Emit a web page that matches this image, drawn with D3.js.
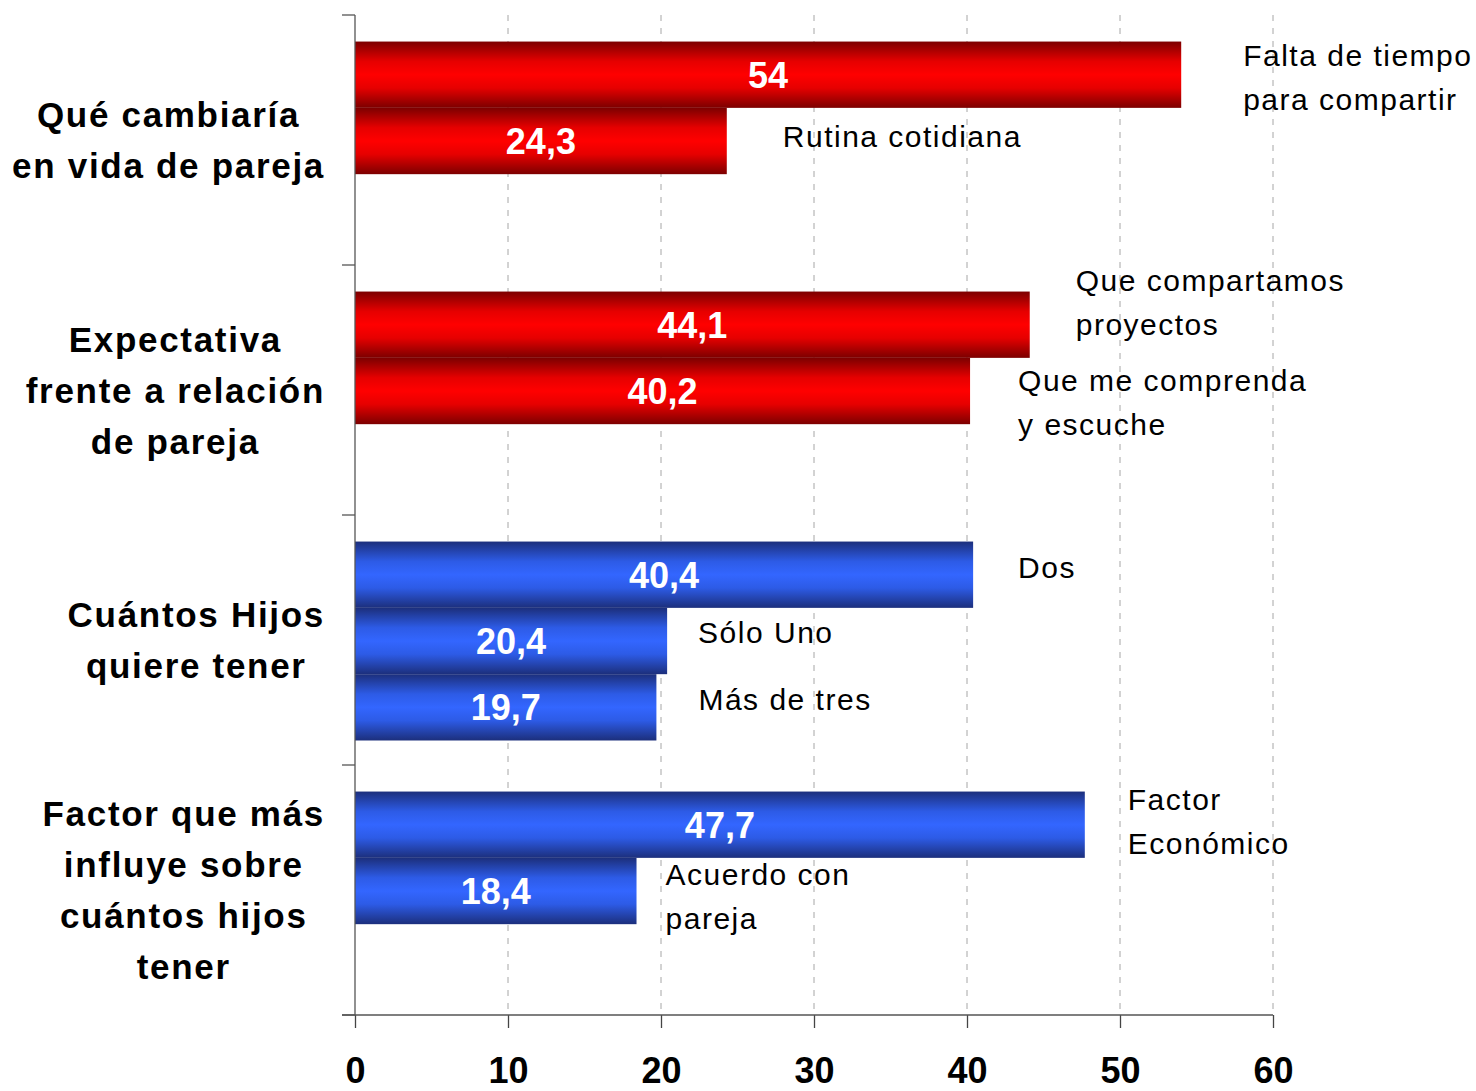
<!DOCTYPE html>
<html>
<head>
<meta charset="utf-8">
<script src="https://cdn.jsdelivr.net/npm/d3@7"></script>
<style>
    body { margin: 0; background: #fff; }
    svg { display: block; font-family: Arial, "Liberation Sans", sans-serif; }
</style>
</head>
<body>
<svg id="chart" width="1476" height="1091"></svg>
<script>
// data
var categories = [
    ["Qué cambiaría", "en vida de pareja"],
    ["Expectativa", "frente a relación", "de pareja"],
    ["Cuántos Hijos", "quiere tener"],
    ["Factor que más", "influye sobre", "cuántos hijos", "tener"]
];
var groupValues = [
    [54, 24.3],
    [44.1, 40.2],
    [40.4, 20.4, 19.7],
    [47.7, 18.4]
];
var optionLabels = [
    [["Falta de tiempo", "para compartir"], ["Rutina cotidiana"]],
    [["Que compartamos", "proyectos"], ["Que me comprenda", "y escuche"]],
    [["Dos"], ["Sólo Uno"], ["Más de tres"]],
    [["Factor", "Económico"], ["Acuerdo con", "pareja"]]
];
var groupColor = ["red", "red", "blue", "blue"];
var xTicks = [0, 10, 20, 30, 40, 50, 60];

// where each option label sits, relative to the end/middle of its bar (px)
var labelNudge = [
    [[62, -20], [56, -5]],
    [[46, -45], [48, -11]],
    [[45, -8], [31, -9], [42, -8]],
    [[43, -26], [29, -17]]
];

var svg = d3.select("#chart");
var catKeys = categories.map(function(c){ return c.join(" "); });

var x = d3.scaleLinear().domain([0, 60]).range([355, 1273]);
var y = d3.scaleBand().domain(catKeys).range([15, 1015]);
var slot = d3.scaleBand().domain([0, 1, 2]).range([0, y.bandwidth()]).paddingOuter(0.385).align(0.52);

// gradients
var defs = svg.append("defs");
function addGrad(id, edge, mid, peak) {
    var g = defs.append("linearGradient").attr("id", id)
        .attr("x1", 0).attr("y1", 0).attr("x2", 0).attr("y2", 1);
    [[0, edge], [0.3, mid], [0.5, peak], [0.7, mid], [1, edge]].forEach(function(s){
        g.append("stop").attr("offset", s[0]).attr("stop-color", s[1]);
    });
}
addGrad("grad-red", "#7c0000", "#e60000", "#ff0000");
addGrad("grad-blue", "#1c2f7c", "#2d5be6", "#3366ff");

// dashed grid
svg.append("g").selectAll("line")
    .data(xTicks.filter(function(t){ return t > 0; }))
    .enter().append("line")
    .attr("x1", function(d){ return x(d); })
    .attr("x2", function(d){ return x(d); })
    .attr("y1", 15).attr("y2", 1015)
    .attr("stroke", "#a6a6a6")
    .attr("stroke-width", 1)
    .attr("stroke-dasharray", "6,7");

// bars
var groups = svg.append("g").selectAll("g.grp")
    .data(catKeys)
    .enter().append("g")
    .attr("class", "grp")
    .attr("transform", function(d){ return "translate(0," + y(d) + ")"; });

groups.each(function(key, gi) {
    var g = d3.select(this);
    var vals = groupValues[gi];
    g.selectAll("rect").data(vals).enter().append("rect")
        .attr("x", x(0))
        .attr("y", function(d, i){ return slot(i); })
        .attr("width", function(d){ return x(d) - x(0); })
        .attr("height", slot.bandwidth())
        .attr("fill", "url(#grad-" + groupColor[gi] + ")");

    g.selectAll("text.val").data(vals).enter().append("text")
        .attr("class", "val")
        .attr("x", function(d){ return (x(0) + x(d)) / 2; })
        .attr("y", function(d, i){ return slot(i) + slot.bandwidth() / 2; })
        .attr("dy", "0.36em")
        .attr("text-anchor", "middle")
        .attr("fill", "#fff")
        .attr("font-weight", "bold")
        .attr("font-size", 36)
        .text(function(d){ return String(d).replace(".", ","); });

    vals.forEach(function(v, i) {
        var nud = labelNudge[gi][i];
        var t = g.append("text")
            .attr("class", "opt")
            .attr("x", x(v) + nud[0])
            .attr("y", slot(i) + slot.bandwidth() / 2 + nud[1])
            .attr("font-size", 30)
            .attr("letter-spacing", 1.5)
            .attr("fill", "#000");
        optionLabels[gi][i].forEach(function(line, li) {
            t.append("tspan")
                .attr("x", x(v) + nud[0])
                .attr("dy", li == 0 ? "0.36em" : 44)
                .text(line);
        });
    });
});

// category labels on the left
var catG = svg.append("g");
categories.forEach(function(lines, gi) {
    var mid = y(catKeys[gi]) + y.bandwidth() / 2;
    var lh = 51;
    var t = catG.append("text")
        .attr("font-size", 35)
        .attr("font-weight", "bold")
        .attr("letter-spacing", 1.7)
        .attr("text-anchor", "middle")
        .attr("fill", "#000");
    var spans = lines.map(function(line, li) {
        return t.append("tspan")
            .attr("y", mid + (li - (lines.length - 1) / 2) * lh)
            .attr("dy", "0.36em")
            .text(line);
    });
    var maxW = d3.max(spans, function(s){ return s.node().getComputedTextLength(); });
    spans.forEach(function(s){ s.attr("x", 325 - maxW / 2); });
});

// y axis line with group boundary ticks
var bounds = catKeys.map(function(k){ return y(k); }).concat([y.range()[1]]);
svg.append("line")
    .attr("x1", x(0)).attr("x2", x(0))
    .attr("y1", 15).attr("y2", 1015)
    .attr("stroke", "#555").attr("stroke-width", 1.3);
svg.append("g").selectAll("line").data(bounds).enter().append("line")
    .attr("x1", x(0) - 13).attr("x2", x(0))
    .attr("y1", function(d){ return d; }).attr("y2", function(d){ return d; })
    .attr("stroke", "#555").attr("stroke-width", 1.3);

// x axis
var xAxis = svg.append("g")
    .attr("transform", "translate(0,1015)")
    .call(d3.axisBottom(x).tickValues(xTicks).tickSize(13).tickPadding(29).tickSizeOuter(0));
xAxis.select(".domain").remove();
xAxis.append("line")
    .attr("x1", x(0) - 13).attr("x2", x(60))
    .attr("stroke", "#555").attr("stroke-width", 1.3);
xAxis.selectAll(".tick line").attr("stroke", "#444").attr("stroke-width", 1.3);
xAxis.selectAll(".tick text")
    .attr("fill", "#000")
    .attr("font-size", 36)
    .attr("font-weight", "bold")
    .attr("font-family", "Arial, 'Liberation Sans', sans-serif");
</script>
</body>
</html>
